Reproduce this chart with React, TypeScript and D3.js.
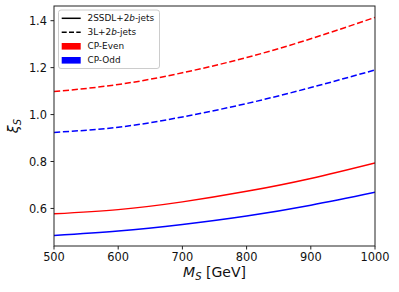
import React from 'react';
import * as d3 from 'd3';

// masses (GeV) and xi_S
const masses = [500, 600, 700, 800, 900, 1000];
const evenSSDL = [0.577, 0.595, 0.628, 0.673, 0.728, 0.794];
const oddSSDL = [0.485, 0.504, 0.532, 0.568, 0.614, 0.669];
const even3L = [1.098, 1.128, 1.178, 1.243, 1.323, 1.414];
const odd3L = [0.924, 0.946, 0.99, 1.047, 1.115, 1.19];

const xTicks = [500, 600, 700, 800, 900, 1000];
const yTicks = [0.6, 0.8, 1.0, 1.2, 1.4];

const W = 399;
const H = 292;
const margin = { left: 54, right: 24, top: 6, bottom: 46 };

const series = [
  { values: evenSSDL, color: 'red', dashed: false },
  { values: oddSSDL, color: 'blue', dashed: false },
  { values: even3L, color: 'red', dashed: true },
  { values: odd3L, color: 'blue', dashed: true },
];

export default function App() {
  const x = d3.scaleLinear([500, 1000], [margin.left, W - margin.right]);
  const y = d3.scaleLinear([0.44, 1.4626], [H - margin.bottom, margin.top]);

  const line = d3
    .line<number>()
    .x((_, i) => x(masses[i]))
    .y((d) => y(d))
    .curve(d3.curveNatural);

  const font = 'DejaVu Sans, sans-serif';
  const left = margin.left;
  const right = W - margin.right;
  const top = margin.top;
  const bottom = H - margin.bottom;

  // legend rows
  const legendRows = [
    { label: '2SSDL+2', kind: 'solid' },
    { label: '3L+2', kind: 'dashed' },
    { label: 'CP-Even', kind: 'patch', color: 'red' },
    { label: 'CP-Odd', kind: 'patch', color: 'blue' },
  ];

  return (
    <svg
      width={W}
      height={H}
      style={{ position: 'absolute', left: 0, top: 0, background: 'white' }}
      fontFamily={font}
    >
      <defs>
        <clipPath id="plot">
          <rect x={left} y={top} width={right - left} height={bottom - top} />
        </clipPath>
      </defs>

      <g clipPath="url(#plot)">
        {series.map((s, i) => (
          <path
            key={i}
            d={line(s.values) ?? ''}
            fill="none"
            stroke={s.color}
            strokeWidth={1.5}
            strokeDasharray={s.dashed ? '6.2,2.7' : undefined}
          />
        ))}
      </g>

      {/* frame */}
      <rect
        x={left}
        y={top}
        width={right - left}
        height={bottom - top}
        fill="none"
        stroke="#222"
        strokeWidth={1}
      />

      {/* x axis */}
      {xTicks.map((t) => (
        <g key={t} transform={`translate(${x(t)},${bottom})`}>
          <line y2={3.5} stroke="#222" />
          <text y={14.5} textAnchor="middle" fontSize={11.4} fill="#111">
            {t}
          </text>
        </g>
      ))}
      <text x={(left + right) / 2} y={276.5} textAnchor="middle" fontSize={14} fill="#111">
        <tspan fontStyle="italic">M</tspan>
        <tspan fontStyle="italic" fontSize={10} dy={3}>
          S
        </tspan>
        <tspan dy={-3}> [GeV]</tspan>
      </text>

      {/* y axis */}
      {yTicks.map((t) => (
        <g key={t} transform={`translate(${left},${y(t)})`}>
          <line x2={-3.5} stroke="#222" />
          <text x={-7} dy="0.36em" textAnchor="end" fontSize={11.4} fill="#111">
            {t.toFixed(1)}
          </text>
        </g>
      ))}
      <text
        transform={`translate(17.5,${(top + bottom) / 2}) rotate(-90)`}
        textAnchor="middle"
        fontSize={14.3}
        fill="#111"
      >
        <tspan fontStyle="italic">ξ</tspan>
        <tspan fontStyle="italic" fontSize={10} dy={3}>
          S
        </tspan>
      </text>

      {/* legend */}
      <g transform="translate(58.5,10)">
        <rect
          width={101}
          height={58.5}
          rx={2.5}
          fill="white"
          fillOpacity={0.8}
          stroke="#ccc"
          strokeWidth={1}
        />
        {legendRows.map((r, i) => {
          const cy = 8.3 + i * 14;
          return (
            <g key={r.label} transform={`translate(0,${cy})`}>
              {r.kind === 'patch' ? (
                <rect x={3.2} y={-3.3} width={19} height={6.6} fill={r.color} />
              ) : (
                <line
                  x1={3.2}
                  x2={22.2}
                  stroke="black"
                  strokeWidth={1.5}
                  strokeDasharray={r.kind === 'dashed' ? '5,2.3' : undefined}
                />
              )}
              <text x={29} dy="0.35em" fontSize={8.9} fill="#111">
                {r.label}
                {r.kind !== 'patch' && (
                  <>
                    <tspan fontStyle="italic">b</tspan>-jets
                  </>
                )}
              </text>
            </g>
          );
        })}
      </g>
    </svg>
  );
}
